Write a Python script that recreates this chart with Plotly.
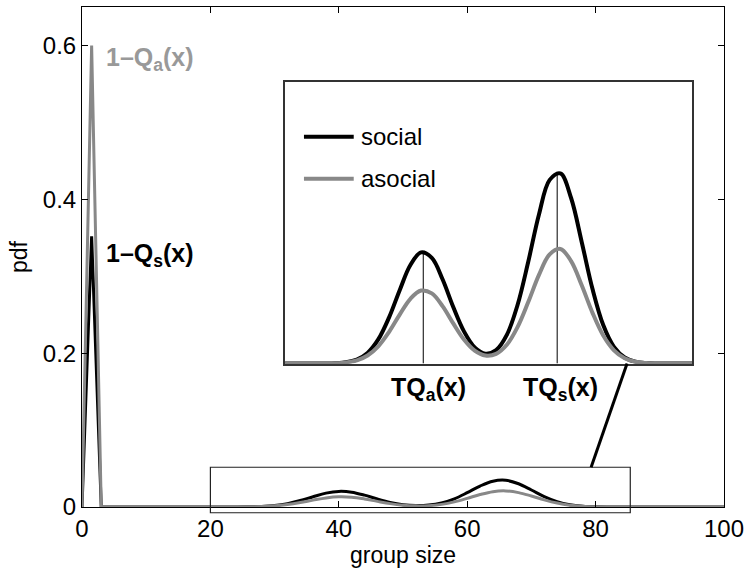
import plotly.graph_objects as go

# spike at small group sizes
spike_x = [0, 1.5, 3]
social_spike = [0, 0.352, 0]
asocial_spike = [0, 0.6, 0]

# bimodal part of the distribution
group_size = [3, 22, 24, 26, 28, 30, 32, 34, 36, 38, 40, 42, 44, 46, 48, 50, 52, 54, 56, 58,
              60, 62, 64, 66, 68, 70, 72, 74, 76, 78, 80, 82, 84, 86, 88, 100]
social = [0, 0.000013, 0.00006, 0.00023, 0.00073, 0.00195, 0.00441, 0.00839, 0.0134, 0.0180,
          0.0203, 0.0193, 0.0154, 0.01033, 0.00588, 0.00296, 0.00181, 0.00246, 0.00524, 0.01069,
          0.01859, 0.02723, 0.03354, 0.03473, 0.03023, 0.02212, 0.0136, 0.00703, 0.00306, 0.00112,
          0.00034, 0.00009, 0.00002, 0, 0, 0]
asocial = [0, 0.000014, 0.00006, 0.0002, 0.00059, 0.00148, 0.00316, 0.00576, 0.00894, 0.01183,
           0.01333, 0.01281, 0.01049, 0.00733, 0.00439, 0.00236, 0.00147, 0.00177, 0.00343, 0.00665,
           0.01123, 0.0162, 0.01995, 0.02093, 0.01872, 0.01426, 0.00926, 0.00512, 0.00242, 0.00097,
           0.00033, 0.0001, 0.00002, 0, 0, 0]

# thresholds marked in the inset
tq_a = 40.4
tq_s = 65.4
tq_a_height = 0.0204
tq_s_height = 0.0350

BLACK = "#000000"
GRAY = "#888888"
FONT = "Liberation Sans, Arial, sans-serif"

Y_MAX = 0.65
INSET_X = [14.6, 90.6]
INSET_Y = [0, 0.0515]
ZOOM_BOX_X = [20, 85.4]
ZOOM_BOX_Y = [-0.0075, 0.0517]

fig = go.Figure()

# main axes
fig.add_trace(go.Scatter(x=spike_x, y=social_spike, mode="lines",
                         line=dict(color=BLACK, width=3), showlegend=False))
fig.add_trace(go.Scatter(x=group_size, y=social, mode="lines", line_shape="spline",
                         line=dict(color=BLACK, width=3), showlegend=False))
fig.add_trace(go.Scatter(x=spike_x, y=asocial_spike, mode="lines",
                         line=dict(color=GRAY, width=3), showlegend=False))
fig.add_trace(go.Scatter(x=group_size, y=asocial, mode="lines", line_shape="spline",
                         line=dict(color=GRAY, width=3), showlegend=False))

# inset
fig.add_trace(go.Scatter(x=group_size, y=social, mode="lines", line_shape="spline",
                         line=dict(color=BLACK, width=4), xaxis="x2", yaxis="y2",
                         showlegend=False))
fig.add_trace(go.Scatter(x=group_size, y=asocial, mode="lines", line_shape="spline",
                         line=dict(color=GRAY, width=4), xaxis="x2", yaxis="y2",
                         showlegend=False))

inset_dom_x = [0.3163, 0.9504]
inset_dom_y = [0.2868, 0.851]

axis_common = dict(showline=True, linecolor=BLACK, linewidth=1, mirror="ticks",
                   ticks="inside", ticklen=6, tickcolor=BLACK, showgrid=False,
                   zeroline=False, tickfont=dict(size=24, color=BLACK, family=FONT))

fig.update_layout(
    width=750, height=572,
    margin=dict(l=82, r=23, t=6, b=65),
    paper_bgcolor="white", plot_bgcolor="white",
    font=dict(family=FONT, size=24, color=BLACK),
    xaxis=dict(range=[0, 100], tickvals=[0, 20, 40, 60, 80, 100],
               title=dict(text="group size", standoff=0, font=dict(size=23)), **axis_common),
    yaxis=dict(range=[0, Y_MAX], tickvals=[0, 0.2, 0.4, 0.6], ticktext=["0", "0.2", "0.4", "0.6"],
               title=dict(text="pdf", standoff=8, font=dict(size=23)), **axis_common),
    xaxis2=dict(domain=inset_dom_x, range=INSET_X, anchor="y2", showline=True, linecolor="#333333",
                linewidth=1.5, mirror=True, ticks="", showticklabels=False, showgrid=False,
                zeroline=False),
    yaxis2=dict(domain=inset_dom_y, range=INSET_Y, anchor="x2", showline=True, linecolor="#333333",
                linewidth=1.5, mirror=True, ticks="", showticklabels=False, showgrid=False,
                zeroline=False),
)

def to_paper_y(v):
    return v / Y_MAX

shapes = [
    # zoom box on main axes
    dict(type="rect", xref="x", yref="paper", x0=ZOOM_BOX_X[0], x1=ZOOM_BOX_X[1],
         y0=to_paper_y(ZOOM_BOX_Y[0]), y1=to_paper_y(ZOOM_BOX_Y[1]),
         line=dict(color="#222222", width=1.2)),
    # connector from zoom box to inset
    dict(type="line", xref="x", yref="paper", x0=79.3, x1=84.9,
         y0=to_paper_y(ZOOM_BOX_Y[1]), y1=inset_dom_y[0],
         line=dict(color=BLACK, width=3)),
    # threshold markers in the inset
    dict(type="line", xref="x2", yref="y2", x0=tq_a, x1=tq_a, y0=0, y1=tq_a_height,
         line=dict(color=BLACK, width=1), layer="below"),
    dict(type="line", xref="x2", yref="y2", x0=tq_s, x1=tq_s, y0=0, y1=tq_s_height,
         line=dict(color=BLACK, width=1), layer="below"),
    # legend lines
    dict(type="line", xref="paper", yref="paper", x0=(305 - 82) / 645, x1=(355 - 82) / 645,
         y0=(507 - 136) / 501, y1=(507 - 136) / 501, line=dict(color=BLACK, width=4)),
    dict(type="line", xref="paper", yref="paper", x0=(305 - 82) / 645, x1=(355 - 82) / 645,
         y0=(507 - 178) / 501, y1=(507 - 178) / 501, line=dict(color=GRAY, width=4)),
]
fig.update_layout(shapes=shapes)

annotations = [
    dict(text="social", x=(360 - 82) / 645, y=(507 - 136) / 501, xref="paper", yref="paper",
         xanchor="left", yanchor="middle", showarrow=False, font=dict(size=24, color=BLACK)),
    dict(text="asocial", x=(360 - 82) / 645, y=(507 - 178) / 501, xref="paper", yref="paper",
         xanchor="left", yanchor="middle", showarrow=False, font=dict(size=24, color=BLACK)),
    dict(text="<b>1–Q<sub>a</sub>(x)</b>", x=3.5, y=0.582, xref="x", yref="y",
         xanchor="left", yanchor="middle", showarrow=False, font=dict(size=25, color="#999999")),
    dict(text="<b>1–Q<sub>s</sub>(x)</b>", x=3.5, y=0.327, xref="x", yref="y",
         xanchor="left", yanchor="middle", showarrow=False, font=dict(size=25, color=BLACK)),
    dict(text="<b>TQ<sub>a</sub>(x)</b>", x=tq_a + 1, y=(507 - 389) / 501, xref="x2", yref="paper",
         xanchor="center", yanchor="middle", showarrow=False, font=dict(size=25, color=BLACK)),
    dict(text="<b>TQ<sub>s</sub>(x)</b>", x=tq_s + 0.6, y=(507 - 389) / 501, xref="x2", yref="paper",
         xanchor="center", yanchor="middle", showarrow=False, font=dict(size=25, color=BLACK)),
]
fig.update_layout(annotations=annotations)

fig.write_html("out.html", config={"displayModeBar": False},
               post_script="document.body.style.margin='0';")
